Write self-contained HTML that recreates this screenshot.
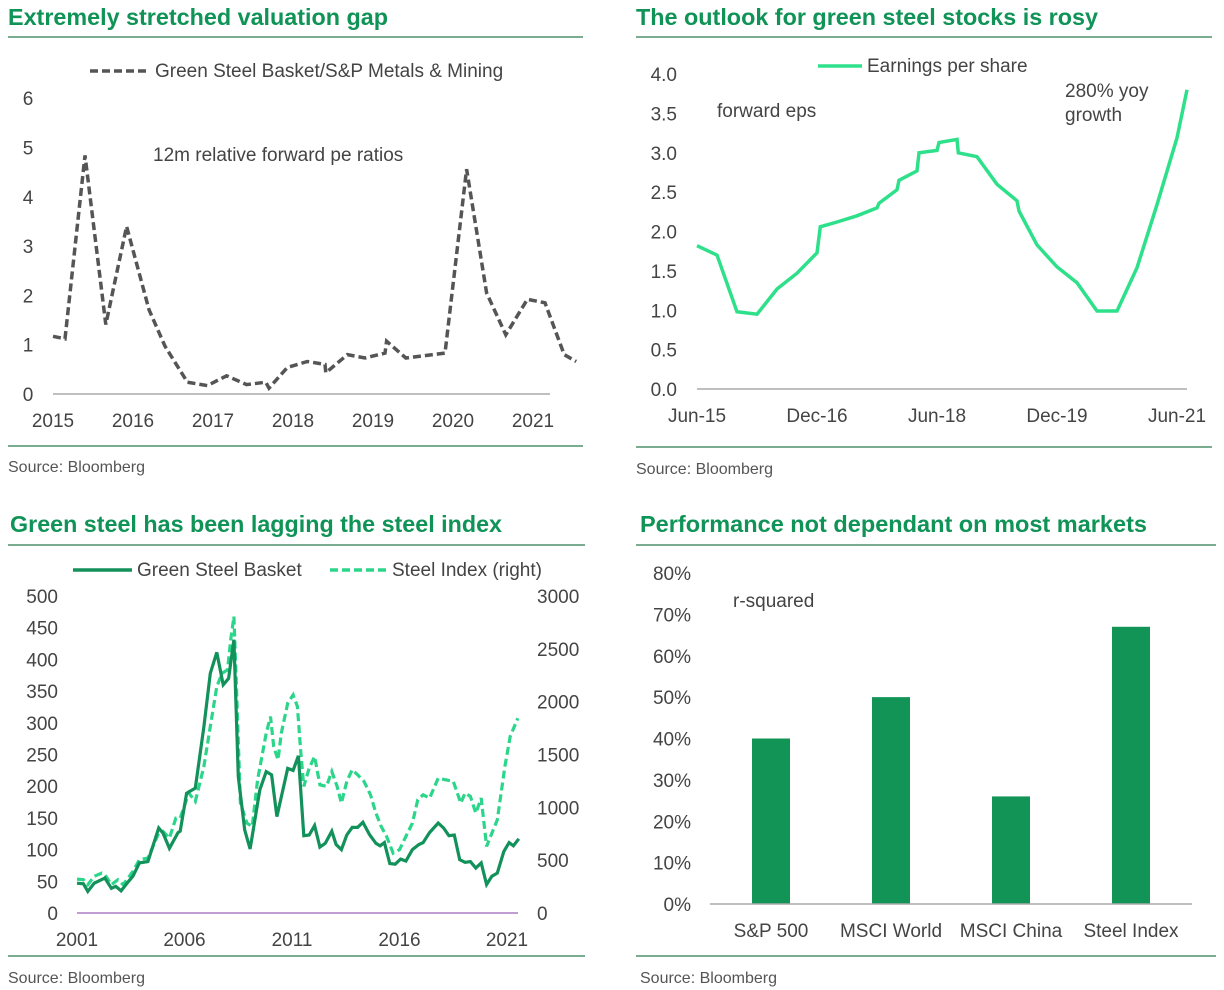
<!DOCTYPE html>
<html><head><meta charset="utf-8"><style>
html,body{margin:0;padding:0;background:#fff;}
svg{display:block;font-family:"Liberation Sans",sans-serif;}
.t{font-family:"Liberation Sans Narrow","Liberation Sans",sans-serif;font-weight:bold;fill:#0f9356;font-size:23px;}
.l{fill:#444;font-size:19px;}
.s{fill:#555;font-size:16px;}
</style></head><body>
<svg id="svg" width="1224" height="990" viewBox="0 0 1224 990">
<g>
<text class="t" x="8" y="25" textLength="380" lengthAdjust="spacingAndGlyphs">Extremely stretched valuation gap</text>
<line x1="8" y1="37" x2="583" y2="37" stroke="#2a7a52" stroke-width="1.3"/>
<line x1="8" y1="446" x2="583" y2="446" stroke="#2a7a52" stroke-width="1.3"/>
<text class="s" x="8" y="472">Source: Bloomberg</text>
<line x1="90" y1="71" x2="150" y2="71" stroke="#555" stroke-width="3.5" stroke-dasharray="8,4"/>
<text class="l" x="155" y="77">Green Steel Basket/S&amp;P Metals &amp; Mining</text>
<text class="l" x="153" y="161">12m relative forward pe ratios</text>
<g id="p1"></g>
</g>
<g>
<text class="t" x="636" y="25" textLength="462" lengthAdjust="spacingAndGlyphs">The outlook for green steel stocks is rosy</text>
<line x1="636" y1="37" x2="1212" y2="37" stroke="#2a7a52" stroke-width="1.3"/>
<line x1="636" y1="447" x2="1212" y2="447" stroke="#2a7a52" stroke-width="1.3"/>
<text class="s" x="636" y="474">Source: Bloomberg</text>
<line x1="818" y1="66" x2="862" y2="66" stroke="#2ee08a" stroke-width="3.5"/>
<text class="l" x="867" y="72">Earnings per share</text>
<text class="l" x="717" y="117">forward eps</text>
<text class="l" x="1065" y="97">280% yoy</text>
<text class="l" x="1065" y="121">growth</text>
<g id="p2"></g>
</g>
<g>
<text class="t" x="10" y="532" textLength="492" lengthAdjust="spacingAndGlyphs">Green steel has been lagging the steel index</text>
<line x1="8" y1="545" x2="585" y2="545" stroke="#2a7a52" stroke-width="1.3"/>
<line x1="8" y1="956" x2="585" y2="956" stroke="#2a7a52" stroke-width="1.3"/>
<text class="s" x="8" y="983">Source: Bloomberg</text>
<line x1="73" y1="570" x2="132" y2="570" stroke="#13915a" stroke-width="3.5"/>
<text class="l" x="137" y="576">Green Steel Basket</text>
<line x1="330" y1="570" x2="388" y2="570" stroke="#2bd68a" stroke-width="3.5" stroke-dasharray="8,4"/>
<text class="l" x="392" y="576">Steel Index  (right)</text>
<g id="p3"></g>
</g>
<g>
<text class="t" x="640" y="532" textLength="507" lengthAdjust="spacingAndGlyphs">Performance not dependant on most markets</text>
<line x1="636" y1="545" x2="1216" y2="545" stroke="#2a7a52" stroke-width="1.3"/>
<line x1="636" y1="956" x2="1216" y2="956" stroke="#2a7a52" stroke-width="1.3"/>
<text class="s" x="640" y="983">Source: Bloomberg</text>
<text class="l" x="733" y="607">r-squared</text>
<g id="p4"></g>
</g>
</svg>
<script>
// Panel 1 data
const p1Years=[2015.0,2015.15,2015.4,2015.66,2015.92,2016.2,2016.4,2016.68,2016.93,2017.17,2017.42,2017.66,2017.7,2017.93,2018.18,2018.4,2018.41,2018.68,2018.9,2019.15,2019.17,2019.41,2019.66,2019.9,2020.17,2020.42,2020.66,2020.93,2021.15,2021.39,2021.54];
const p1Values=[1.17,1.12,4.84,1.41,3.4,1.71,0.97,0.24,0.17,0.37,0.19,0.24,0.12,0.54,0.66,0.6,0.43,0.8,0.73,0.83,1.07,0.73,0.78,0.83,4.56,2.05,1.2,1.92,1.85,0.8,0.66];
const p1YTicks=[0,1,2,3,4,5,6];
const p1XTicks=[2015,2016,2017,2018,2019,2020,2021];
// Panel 2 data (months since Jun-15)
const p2Months=[0,3,6,9,12,15,18,18.5,21,24,27,27.3,30,30.3,33,33.3,36,36.3,39,39.2,42,45,48,48.3,51,54,57,60,63,66,69,72,73.5];
const p2Eps=[1.82,1.7,0.98,0.95,1.27,1.47,1.73,2.06,2.12,2.2,2.3,2.36,2.53,2.65,2.77,3.0,3.03,3.13,3.17,3.0,2.95,2.6,2.39,2.26,1.83,1.55,1.35,0.99,0.99,1.54,2.34,3.19,3.8];
const p2YTicks=[0,0.5,1,1.5,2,2.5,3,3.5,4];
const p2XLabels=["Jun-15","Dec-16","Jun-18","Dec-19","Jun-21"];
// Panel 3 data
const basketYears=[2001,2001.3,2001.5,2001.8,2002.3,2002.6,2002.8,2003.05,2003.4,2003.6,2003.9,2004.3,2004.8,2005.0,2005.3,2005.7,2005.8,2006.1,2006.5,2006.9,2007.2,2007.5,2007.8,2008.05,2008.3,2008.5,2008.8,2009.05,2009.5,2009.8,2010.05,2010.3,2010.8,2011.05,2011.3,2011.55,2011.8,2012.05,2012.3,2012.55,2012.85,2013.05,2013.3,2013.55,2013.8,2014.05,2014.3,2014.6,2014.9,2015.1,2015.3,2015.55,2015.8,2016.05,2016.3,2016.6,2016.9,2017.1,2017.4,2017.8,2018.05,2018.3,2018.55,2018.8,2019.05,2019.3,2019.55,2019.8,2020.05,2020.3,2020.55,2020.85,2021.1,2021.3,2021.55];
const basketValues=[47,46,34,47,55,39,42,35,50,58,79,81,134,126,102,127,129,189,197,294,378,411,360,370,431,215,131,101,194,223,218,152,228,225,248,122,123,138,104,110,129,108,100,123,135,135,143,124,110,106,111,78,77,85,82,100,108,111,127,142,134,122,123,84,80,81,71,79,45,58,63,97,111,106,117];
const steelYears=[2001,2001.3,2001.5,2001.8,2002.15,2002.3,2002.6,2002.9,2003.15,2003.6,2003.9,2004.3,2004.8,2005.0,2005.3,2005.6,2005.8,2006.2,2006.5,2006.9,2007.2,2007.5,2007.75,2008,2008.15,2008.3,2008.4,2008.6,2008.9,2009.15,2009.4,2009.8,2010.0,2010.15,2010.35,2010.5,2010.8,2011.05,2011.25,2011.4,2011.55,2011.8,2012.05,2012.3,2012.6,2012.85,2013.1,2013.3,2013.55,2013.8,2014.05,2014.35,2014.65,2014.9,2015.15,2015.4,2015.7,2016,2016.3,2016.6,2016.85,2017.1,2017.4,2017.8,2018.15,2018.5,2018.85,2019.05,2019.3,2019.55,2019.8,2020.05,2020.3,2020.55,2020.9,2021.15,2021.5];
const steelValues=[321,315,268,347,378,362,268,315,268,394,504,520,756,772,709,898,898,1135,1056,1387,1765,2143,2269,2301,2584,2805,2238,1040,851,819,1261,1702,1859,1576,1450,1702,1985,2064,1954,1544,1198,1371,1481,1213,1198,1339,1198,1040,1245,1355,1308,1245,1119,945,819,725,567,599,725,851,1072,1119,1087,1276,1261,1245,1040,1135,1103,945,1087,630,756,882,1387,1670,1844];
const p3LeftTicks=[0,50,100,150,200,250,300,350,400,450,500];
const p3RightTicks=[0,500,1000,1500,2000,2500,3000];
const p3XTicks=[2001,2006,2011,2016,2021];
// Panel 4 data
const p4Categories=["S&P 500","MSCI World","MSCI China","Steel Index"];
const p4Values=[40,50,26,67];
const p4Ticks=[0,10,20,30,40,50,60,70,80];

const NS="http://www.w3.org/2000/svg";
function mk(parent,tag,attrs,text){const e=document.createElementNS(NS,tag);for(const k in attrs)e.setAttribute(k,attrs[k]);if(text!==undefined)e.textContent=text;parent.appendChild(e);return e;}
function path(xs,ys,fx,fy){return xs.map((v,i)=>(i?"L":"M")+fx(v).toFixed(1)+","+fy(ys[i]).toFixed(1)).join("");}

// Panel 1
(function(){
const g=document.getElementById('p1');
const x=v=>53+(v-2015)*80, y=v=>394-v*49.3;
const ax=mk(g,'line',{x1:53,y1:394,x2:550,y2:394,stroke:'#aaa','stroke-width':1.5});

p1YTicks.forEach(t=>{const e=mk(g,'text',{x:28,y:y(t)+7,'text-anchor':'middle',class:'l'},String(t));
});
p1XTicks.forEach(t=>{const e=mk(g,'text',{x:x(t),y:427,'text-anchor':'middle',class:'l'},String(t));
});
const p=mk(g,'path',{d:path(p1Years,p1Values,x,y),fill:'none',stroke:'#555','stroke-width':3.5,'stroke-dasharray':'8,4'});

})();
// Panel 2
(function(){
const g=document.getElementById('p2');
const x=m=>697+m*120/18, y=v=>389-v*78.75;
const ax=mk(g,'line',{x1:697,y1:389,x2:1187,y2:389,stroke:'#aaa','stroke-width':1.5});

p2YTicks.forEach(t=>{const e=mk(g,'text',{x:677,y:y(t)+7,'text-anchor':'end',class:'l'},t.toFixed(1));
});
p2XLabels.forEach((t,i)=>{const e=mk(g,'text',{x:x(i*18),y:422,'text-anchor':'middle',class:'l'},t);
});
const p=mk(g,'path',{d:path(p2Months,p2Eps,x,y),fill:'none',stroke:'#2ee08a','stroke-width':3.5});

})();
// Panel 3
(function(){
const g=document.getElementById('p3');
const x=v=>77+(v-2001)*21.5, yl=v=>913-v*0.634, yr=v=>913-v*317/3000;
const ax=mk(g,'line',{x1:77,y1:913,x2:518,y2:913,stroke:'#b07cc6','stroke-width':1.5});

p3LeftTicks.forEach(t=>{const e=mk(g,'text',{x:58,y:yl(t)+7,'text-anchor':'end',class:'l'},String(t));
});
p3RightTicks.forEach(t=>{const e=mk(g,'text',{x:537,y:yr(t)+7,'text-anchor':'start',class:'l'},String(t));
});
p3XTicks.forEach(t=>{const e=mk(g,'text',{x:x(t),y:946,'text-anchor':'middle',class:'l'},String(t));
});
const s=mk(g,'path',{d:path(steelYears,steelValues,x,yr),fill:'none',stroke:'#2bd68a','stroke-width':3.2,'stroke-dasharray':'8,4'});

const b=mk(g,'path',{d:path(basketYears,basketValues,x,yl),fill:'none',stroke:'#13915a','stroke-width':3.2});

})();
// Panel 4
(function(){
const g=document.getElementById('p4');
const y=v=>904-v*4.1375;
p4Ticks.forEach(t=>{const e=mk(g,'text',{x:691,y:y(t)+7,'text-anchor':'end',class:'l'},t+'%');
});
p4Categories.forEach((c,i)=>{const cx=771+i*120;
const r=mk(g,'rect',{x:cx-19,y:y(p4Values[i]),width:38,height:904-y(p4Values[i]),fill:'#129456'});

const e=mk(g,'text',{x:cx,y:937,'text-anchor':'middle',class:'l'},c);
});
const ax=mk(g,'line',{x1:710,y1:904,x2:1192,y2:904,stroke:'#aaa','stroke-width':1.5});

})();
</script>
</body></html>
